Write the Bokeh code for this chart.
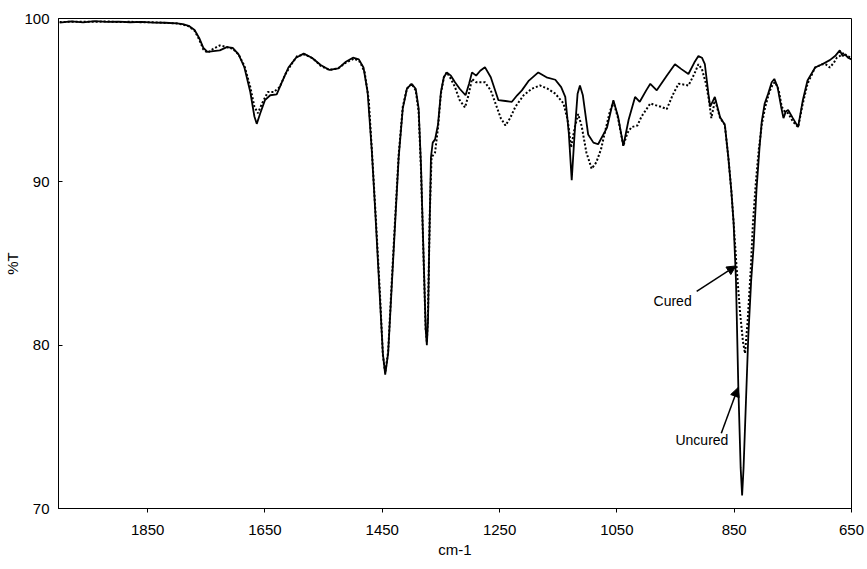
from bokeh.plotting import figure
from bokeh.models import Range1d, FixedTicker, Arrow, NormalHead, Label
from bokeh.embed import file_html
from bokeh.resources import INLINE

# ---------------- data ----------------
uncured_x = [2000, 1980, 1960, 1940, 1920, 1900, 1880, 1860, 1840, 1820, 1800, 1790, 1780, 1770,
             1762, 1755, 1748, 1738, 1727, 1715, 1705, 1695, 1685, 1675, 1668, 1664, 1658, 1650,
             1641, 1630, 1620, 1610, 1597, 1584, 1570, 1555, 1540, 1525, 1512, 1500, 1490, 1482,
             1475, 1468, 1462, 1455, 1449, 1445, 1440, 1434, 1428, 1422, 1415, 1408, 1400, 1393,
             1388, 1384, 1380, 1376, 1374, 1372, 1370, 1367, 1364, 1360, 1355, 1350, 1345, 1340,
             1333, 1326, 1318, 1308, 1302, 1297, 1290, 1283, 1275, 1265, 1252, 1240, 1229, 1220,
             1212, 1200, 1184, 1170, 1155, 1145, 1138, 1132, 1127, 1122, 1117, 1113, 1108, 1099,
             1090, 1082, 1067, 1056, 1048, 1039, 1030, 1019, 1011, 1000, 993, 982, 965, 951,
             940, 928, 918, 911, 905, 900, 894, 891, 887, 883, 878, 874, 866, 860, 855, 851,
             847, 843, 839, 836.5, 834, 830, 826, 821, 817, 812, 807, 803, 798, 792, 786, 781.6,
             776, 770, 766, 762, 758, 750, 741, 733, 725, 712, 700, 687, 678, 670, 665, 661,
             656, 650]
uncured_y = [99.75, 99.82, 99.76, 99.84, 99.79, 99.81, 99.77, 99.79, 99.75, 99.74, 99.7, 99.65, 99.55, 99.3,
             98.8, 98.2, 97.95, 98.0, 98.05, 98.25, 98.2, 97.8, 97.0, 95.5, 94.0, 93.55, 94.2, 95.0,
             95.3, 95.35, 96.2, 97.0, 97.6, 97.85, 97.6, 97.15, 96.85, 96.95, 97.35, 97.6, 97.5, 97.0,
             95.5, 92.0, 88.2, 83.5, 79.5, 78.2, 79.5, 83.5, 87.5, 91.5, 94.5, 95.7, 96.0, 95.7,
             94.5, 91.0, 86.0, 81.0, 80.0, 81.5, 86.0, 91.5, 92.4, 92.6, 93.5, 95.5, 96.4, 96.7,
             96.5, 96.1, 95.7, 95.3, 96.0, 96.7, 96.5, 96.8, 97.02, 96.4, 95.0, 94.95, 94.9, 95.3,
             95.6, 96.2, 96.7, 96.4, 96.25, 95.8, 95.2, 93.0, 90.1, 93.0, 95.4, 95.9, 95.3, 92.9,
             92.4, 92.3, 93.3, 95.0, 94.0, 92.2, 93.8, 95.2, 94.9, 95.6, 96.0, 95.6, 96.5, 97.2,
             96.9, 96.6, 97.3, 97.7, 97.6, 97.2, 95.4, 94.6, 94.9, 95.2, 94.5, 93.95, 93.5, 91.5, 89.5, 87.5,
             84.0, 77.5, 72.5, 70.8, 72.5, 76.5, 80.5, 84.0, 86.0, 89.5, 92.0, 93.7, 94.8, 95.4, 96.1, 96.3,
             95.8, 94.6, 93.9, 94.3, 94.4, 93.9, 93.35, 95.0, 96.2, 97.0, 97.2, 97.45, 97.7, 98.05, 97.7, 97.8,
             97.6, 97.5]

cured_x = [2000, 1980, 1960, 1940, 1920, 1900, 1880, 1860, 1840, 1820, 1800, 1790, 1780, 1770,
           1762, 1755, 1748, 1738, 1727, 1715, 1705, 1695, 1685, 1675, 1668, 1662, 1655, 1645,
           1635, 1625, 1615, 1605, 1595, 1582, 1568, 1555, 1540, 1525, 1512, 1498, 1488, 1480,
           1473, 1467, 1461, 1454, 1449, 1445, 1440, 1434, 1428, 1422, 1415, 1408, 1400, 1393,
           1388, 1384, 1380, 1376, 1374, 1372, 1369, 1366, 1360, 1355, 1350, 1345, 1340,
           1333, 1326, 1318, 1309, 1303, 1297, 1290, 1280, 1275, 1265, 1257, 1248, 1240, 1232,
           1223, 1209, 1195, 1181, 1168, 1155, 1141, 1134, 1128, 1122, 1116, 1110, 1102, 1093,
           1085, 1077, 1070, 1062, 1056, 1048, 1039, 1032, 1025, 1015, 1008, 993, 985, 975, 965,
           955, 945, 935, 928, 918, 911, 905, 898, 893, 889, 885, 883, 878, 874, 866, 860, 855,
           850, 846, 840, 835, 831.5, 827, 822, 818, 813, 808, 803, 797, 790, 784, 780, 774, 769,
           764, 758, 750, 741, 733, 725, 712, 700, 694, 687, 680, 675, 670, 663, 658, 650]
cured_y = [99.78, 99.8, 99.8, 99.8, 99.82, 99.78, 99.8, 99.77, 99.77, 99.73, 99.7, 99.63, 99.52, 99.25,
           98.7, 98.1, 97.9, 98.15, 98.35, 98.25, 98.15, 97.8, 97.1, 95.8, 94.6, 94.2, 94.8, 95.5,
           95.5, 95.8, 96.6, 97.2, 97.7, 97.8, 97.55, 97.1, 96.85, 96.95, 97.3, 97.55, 97.35, 96.7,
           95.0, 91.5, 87.8, 83.2, 79.4, 78.3, 79.6, 83.8, 87.8, 91.7, 94.6, 95.7, 96.0, 95.6,
           94.3, 90.8, 85.8, 81.0, 80.2, 82.0, 88.0, 91.5, 91.8, 93.3, 95.4, 96.4, 96.7,
           96.3, 95.8, 95.0, 94.55, 95.3, 96.3, 96.1, 96.1, 96.1, 95.6, 94.8, 93.9, 93.45, 93.9,
           94.6, 95.3, 95.7, 95.9, 95.7, 95.4, 94.8, 93.8, 92.1, 93.3, 94.15, 93.4, 91.8, 90.8,
           91.2, 92.0, 93.1, 94.3, 94.9, 93.9, 92.2, 93.0, 93.35, 93.45, 94.0, 94.8, 94.7, 94.6, 94.45,
           95.3, 96.0, 95.95, 95.9, 96.6, 97.2, 96.9, 96.0, 95.0, 93.9, 94.6, 95.1, 94.4, 93.9, 93.5, 91.5, 89.5,
           87.0, 84.8, 82.0, 80.2, 79.5, 81.5, 84.5, 87.5, 90.0, 92.0, 93.5, 94.6, 95.5, 96.0, 96.1, 95.6, 94.6,
           94.3, 94.2, 93.7, 93.35, 94.8, 96.0, 97.0, 97.2, 97.2, 97.0, 97.3, 97.6, 97.7, 97.9, 97.7, 97.6]

x_ticks = [1850, 1650, 1450, 1250, 1050, 850, 650]
y_ticks = [70, 80, 90, 100]

FONT = "Liberation Sans"

p = figure(frame_width=793, frame_height=490,
           min_border_left=58, min_border_right=16, min_border_top=18, min_border_bottom=61,
           x_range=Range1d(2002, 650), y_range=Range1d(70, 100),
           output_backend="svg", toolbar_location=None,
           x_axis_label="cm-1", y_axis_label="%T")

p.background_fill_color = "white"
p.border_fill_color = "white"
p.outline_line_color = "black"
p.outline_line_width = 1
p.xgrid.grid_line_color = None
p.ygrid.grid_line_color = None

p.xaxis.ticker = FixedTicker(ticks=x_ticks)
p.yaxis.ticker = FixedTicker(ticks=y_ticks)
for ax in (p.xaxis[0], p.yaxis[0]):
    ax.axis_line_color = "black"
    ax.major_tick_line_color = "black"
    ax.minor_tick_line_color = None
    ax.major_label_text_font = FONT
    ax.major_label_text_font_size = "15px"
    ax.major_label_text_color = "black"
    ax.axis_label_text_font = FONT
    ax.axis_label_text_font_size = "15px"
    ax.axis_label_text_font_style = "normal"
    ax.axis_label_text_color = "black"
p.xaxis.major_tick_out = 4
p.xaxis.major_tick_in = 0
p.xaxis.major_label_standoff = 12
p.xaxis.axis_label_standoff = 3
p.yaxis.major_tick_out = 0
p.yaxis.major_tick_in = 4
p.yaxis.major_label_standoff = 9
p.yaxis.axis_label_standoff = 0

p.line(uncured_x, uncured_y, line_color="black", line_width=1.8)
p.line(cured_x, cured_y, line_color="black", line_width=2, line_dash="2 2")

# annotations
p.add_layout(Arrow(end=NormalHead(size=9, fill_color="black", line_color="black"),
                   x_start=914, y_start=83.3, x_end=847, y_end=84.85,
                   line_color="black", line_width=1.5))
p.add_layout(Arrow(end=NormalHead(size=9, fill_color="black", line_color="black"),
                   x_start=872, y_start=74.6, x_end=843.5, y_end=77.4,
                   line_color="black", line_width=1.5))
p.add_layout(Label(x=955, y=82.7, text="Cured", text_align="center", text_baseline="middle",
                   text_font=FONT, text_font_size="14px", text_color="black"))
p.add_layout(Label(x=905, y=74.2, text="Uncured", text_align="center", text_baseline="middle",
                   text_font=FONT, text_font_size="14px", text_color="black"))

open("out.html", "w").write(file_html(p, INLINE))
